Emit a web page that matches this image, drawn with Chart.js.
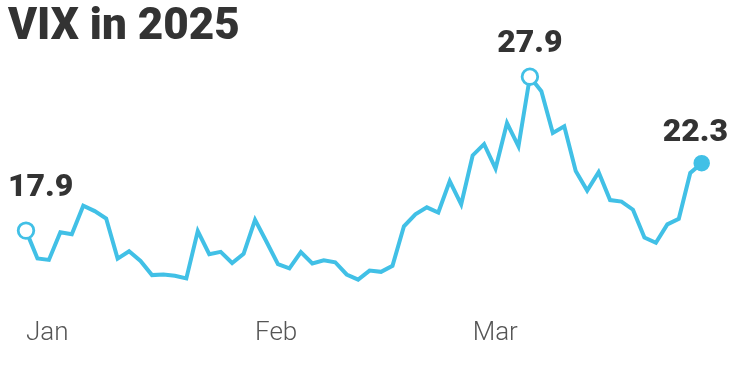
<!DOCTYPE html>
<html>
<head>
<meta charset="utf-8">
<script src="https://cdn.jsdelivr.net/npm/chart.js@4/dist/chart.umd.min.js"></script>
<style>
  html, body { margin: 0; padding: 0; background: #ffffff; }
  #wrap { width: 746px; height: 366px; position: relative; }
</style>
</head>
<body>
<div id="wrap"><canvas id="c"></canvas></div>
<script>
// ---- Data (VIX daily closes, 2025) ----
const dates = [
  'Jan 2','Jan 3','Jan 6','Jan 7','Jan 8','Jan 10','Jan 13','Jan 14','Jan 15','Jan 16',
  'Jan 17','Jan 21','Jan 22','Jan 23','Jan 24','Jan 27','Jan 28','Jan 29','Jan 30','Jan 31',
  'Feb 3','Feb 4','Feb 5','Feb 6','Feb 7','Feb 10','Feb 11','Feb 12','Feb 13','Feb 14',
  'Feb 18','Feb 19','Feb 20','Feb 21','Feb 24','Feb 25','Feb 26','Feb 27','Feb 28',
  'Mar 3','Mar 4','Mar 5','Mar 6','Mar 7','Mar 10','Mar 11','Mar 12','Mar 13','Mar 14',
  'Mar 17','Mar 18','Mar 19','Mar 20','Mar 21','Mar 24','Mar 25','Mar 26','Mar 27','Mar 28','Mar 31'
];
const vix = [
  17.93,16.13,16.04,17.82,17.70,19.54,19.19,18.71,16.12,16.60,
  15.97,15.06,15.10,15.02,14.85,17.90,16.41,16.56,15.84,16.43,
  18.62,17.21,15.77,15.50,16.54,15.81,16.02,15.89,15.10,14.77,
  15.35,15.27,15.66,18.21,18.98,19.43,19.10,21.13,19.63,
  22.78,23.51,21.93,24.87,23.37,27.86,26.92,24.23,24.66,21.77,
  20.51,21.70,19.90,19.80,19.28,17.48,17.15,18.33,18.69,21.65,22.28
];
const tickDates = ['Jan 2', 'Feb 3', 'Mar 3'];
const tickNames = ['Jan', 'Feb', 'Mar'];
const calloutDates = ['Jan 2', 'Mar 10', 'Mar 31'];
const calloutMarkers = ['open', 'open', 'filled'];
const calloutOffsets = [-35, -25, -22];

// ---- Styles ----
const LINE = '#41c0e6';
const INK = '#333333';
const labelBounds = { left: 8, right: 728 };

const calloutIdx = calloutDates.map(d => dates.indexOf(d));

const calloutPlugin = {
  id: 'callouts',
  afterDatasetsDraw(chart) {
    const ctx = chart.ctx;
    const xs = chart.scales.x, ys = chart.scales.y;
    ctx.save();
    ctx.font = '900 32px Roboto, "Liberation Sans", sans-serif';
    ctx.fillStyle = INK;
    ctx.textAlign = 'left';
    ctx.textBaseline = 'alphabetic';
    calloutIdx.forEach((i, k) => {
      const v = vix[i];
      const text = v.toFixed(1);
      const x = xs.getPixelForValue(i);
      const y = ys.getPixelForValue(v);
      const w = ctx.measureText(text).width;
      let left = x - w / 2;
      left = Math.max(labelBounds.left, Math.min(labelBounds.right - w, left));
      ctx.fillText(text, left, y + calloutOffsets[k]);
    });
    ctx.restore();
  }
};

new Chart(document.getElementById('c'), {
  type: 'line',
  data: {
    labels: dates,
    datasets: [{
      data: vix,
      borderColor: LINE,
      borderWidth: 4,
      tension: 0,
      clip: false,
      pointRadius: ctx => {
        const k = calloutIdx.indexOf(ctx.dataIndex);
        if (k < 0) return 0;
        return calloutMarkers[k] === 'filled' ? 7.5 : 7.8;
      },
      pointHoverRadius: 0,
      pointBorderWidth: ctx => {
        const k = calloutIdx.indexOf(ctx.dataIndex);
        return k >= 0 && calloutMarkers[k] === 'filled' ? 1.5 : 2.8;
      },
      pointBorderColor: LINE,
      pointBackgroundColor: ctx => {
        const k = calloutIdx.indexOf(ctx.dataIndex);
        return k >= 0 && calloutMarkers[k] === 'filled' ? LINE : '#ffffff';
      }
    }]
  },
  options: {
    responsive: true,
    maintainAspectRatio: false,
    devicePixelRatio: 1,
    animation: false,
    events: [],
    layout: { padding: { left: 8, right: 44.3, top: 0, bottom: 0 } },
    plugins: {
      legend: { display: false },
      tooltip: { enabled: false },
      title: {
        display: true,
        text: 'VIX in 2025',
        align: 'start',
        color: INK,
        font: { family: 'Roboto, "Liberation Sans", sans-serif', size: 44, weight: '900', lineHeight: 1 },
        padding: { top: 6.25, bottom: 6.75 }
      }
    },
    scales: {
      x: {
        type: 'category',
        offset: false,
        grid: { display: false, drawTicks: false },
        border: { display: false },
        ticks: {
          autoSkip: false,
          maxRotation: 0,
          minRotation: 0,
          align: 'start',
          padding: 17.4,
          color: '#555555',
          font: { family: 'Roboto, sans-serif', size: 26, weight: '300', lineHeight: 1.2 },
          callback: function (value, index) {
            const k = tickDates.indexOf(dates[index]);
            return k >= 0 ? tickNames[k] : '';
          }
        }
      },
      y: {
        display: true,
        min: 13.454,
        max: 29.13,
        grid: { display: false, drawTicks: false },
        border: { display: false },
        ticks: { display: false },
        afterFit: scale => { scale.width = 18; }
      }
    }
  },
  plugins: [calloutPlugin]
});
</script>
</body>
</html>
